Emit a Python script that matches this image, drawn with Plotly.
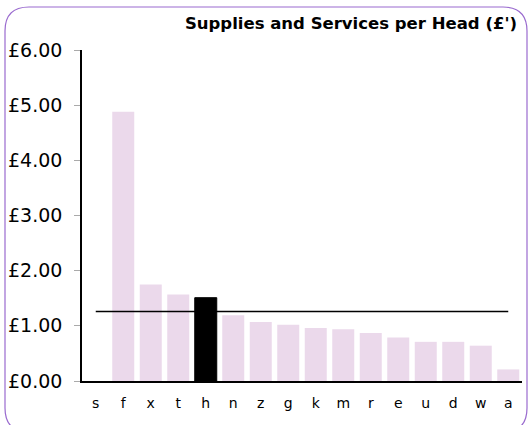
import plotly.graph_objects as go

# Supplies and services spend per head, by unit
categories = ["s", "f", "x", "t", "h", "n", "z", "g", "k", "m", "r", "e", "u", "d", "w", "a"]
spend_per_head = [None, 4.88, 1.75, 1.57, 1.51, 1.19, 1.07, 1.02, 0.96, 0.94, 0.87, 0.79, 0.71, 0.71, 0.64, 0.21]
highlight = "h"
average_spend = 1.26

y_ticks = [0, 1, 2, 3, 4, 5, 6]
y_tick_labels = ["£0.00", "£1.00", "£2.00", "£3.00", "£4.00", "£5.00", "£6.00"]

W, H = 529, 425
ML, MR, MT, MB = 82, 7, 50, 44
PW, PH = W - ML - MR, H - MT - MB

bar_colors = ["#000000" if c == highlight else "#EBD9EB" for c in categories]
bar_line = [1 if c == highlight else 0 for c in categories]

fig = go.Figure()
fig.add_trace(go.Bar(
    x=categories, y=spend_per_head,
    marker=dict(color=bar_colors, line=dict(color="#000000", width=bar_line)),
    width=0.8, hoverinfo="x+y",
))
fig.add_trace(go.Scatter(
    x=[categories[0], categories[-1]], y=[average_spend, average_spend],
    mode="lines", line=dict(color="#000000", width=1.5), hoverinfo="skip",
))


def px(x, y):
    return (x - ML) / PW, (H - MB - y) / PH


def rounded_rect(x0, y0, x1, y1, r):
    def p(x, y):
        a, b = px(x, y)
        return f"{a:.5f},{b:.5f}"
    d = f"M {p(x0 + r, y0)} L {p(x1 - r, y0)} Q {p(x1, y0)} {p(x1, y0 + r)} "
    d += f"L {p(x1, y1 - r)} Q {p(x1, y1)} {p(x1 - r, y1)} "
    d += f"L {p(x0 + r, y1)} Q {p(x0, y1)} {p(x0, y1 - r)} "
    d += f"L {p(x0, y0 + r)} Q {p(x0, y0)} {p(x0 + r, y0)} Z"
    return d


fig.add_shape(type="path", xref="paper", yref="paper",
              path=rounded_rect(5, 7, 527, 432, 24),
              line=dict(color="#9A6BCF", width=1.2), layer="below")

fig.update_layout(
    width=W, height=H,
    margin=dict(l=ML, r=MR, t=MT, b=MB),
    paper_bgcolor="#FFFFFF", plot_bgcolor="#FFFFFF",
    showlegend=False,
    font=dict(family="DejaVu Sans, Verdana, sans-serif", color="#000000"),
    title=dict(text="<b>Supplies and Services per Head (£')</b>",
               x=1, xref="paper", xanchor="right", y=1 - 23 / H, yanchor="middle",
               pad=dict(r=5),
               font=dict(size=16.5, family="DejaVu Sans, Verdana, sans-serif", color="#000000")),
    xaxis=dict(range=[-0.5, len(categories) - 0.5], showgrid=False, zeroline=False,
               showline=True, linecolor="#000000", linewidth=1.5, ticks="",
               tickfont=dict(size=14), ticklabelstandoff=8, fixedrange=True),
    yaxis=dict(range=[0, 6], tickvals=y_ticks, ticktext=y_tick_labels,
               showgrid=False, zeroline=False, showline=True, linecolor="#000000",
               linewidth=1.5, ticks="outside", ticklen=6, tickcolor="#AAAAAA",
               tickfont=dict(size=19), ticklabelstandoff=8, fixedrange=True),
    bargap=0.2,
)

fig.write_html("out.html")
